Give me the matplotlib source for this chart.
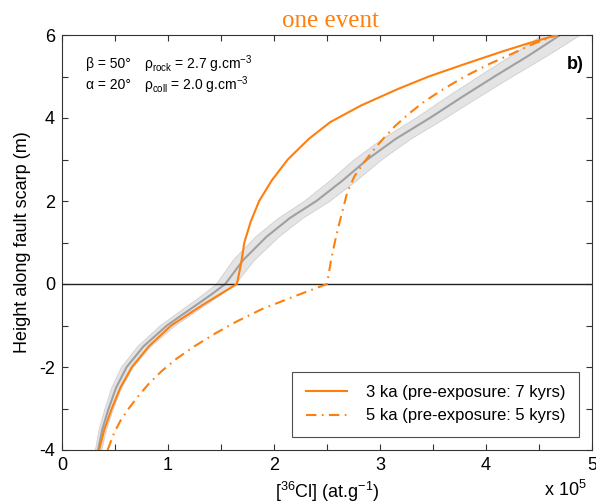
import numpy as np
import matplotlib
matplotlib.use("Agg")
import matplotlib.pyplot as plt
from matplotlib.ticker import MultipleLocator

plt.rcParams['font.family'] = ['Liberation Sans', 'DejaVu Sans']
plt.rcParams['mathtext.fontset'] = 'custom'
plt.rcParams['mathtext.rm'] = 'Liberation Sans'
plt.rcParams['mathtext.it'] = 'Liberation Sans:italic'
plt.rcParams['mathtext.bf'] = 'Liberation Sans:bold'
plt.rcParams['axes.unicode_minus'] = False

# data ([36Cl] in units of 1e5 at/g vs height in m)
gray_h = [-4, -3.5, -3, -2.5, -2, -1.5, -1, -0.5, -0.25, 0,
          0.58, 1.14, 1.59, 2.0, 2.5, 3.0, 3.5, 4.0,
          4.5, 5.0, 5.5, 6]
gray_x = [0.34, 0.38, 0.44, 0.51, 0.61, 0.77, 0.99, 1.27, 1.41, 1.54,
          1.71, 1.93, 2.15, 2.40, 2.65, 2.88, 3.15, 3.47,
          3.77, 4.08, 4.40, 4.70]
gray_err = [0.03, 0.035, 0.04, 0.047, 0.055, 0.062, 0.07, 0.08, 0.085, 0.09,
            0.10, 0.11, 0.115, 0.12, 0.125, 0.13, 0.135, 0.14,
            0.15, 0.16, 0.17, 0.18]

solid_h = [-4, -3.5, -3, -2.5, -2, -1.5, -1, -0.5, 0,
           0.5, 1.0, 1.5, 2.0, 2.5, 3.0, 3.5, 3.9, 4.3, 4.7, 5.0,
           5.3, 5.6, 5.8, 6]
solid_x = [0.35, 0.40, 0.47, 0.55, 0.66, 0.82, 1.03, 1.33, 1.65,
           1.69, 1.72, 1.78, 1.86, 1.98, 2.13, 2.33, 2.53, 2.82, 3.17, 3.46,
           3.80, 4.15, 4.40, 4.67]

dash_h = [-4, -3.6, -3.3, -3.0, -2.7, -2.4, -2.1, -1.8, -1.5, -1.2, -0.9, -0.6, -0.3, 0,
          0.6, 1.2, 1.7, 2.2, 2.6, 2.9, 3.2, 3.5, 3.8, 4.1, 4.4, 4.7,
          5.0, 5.3, 5.6, 5.8, 6]
dash_x = [0.43, 0.49, 0.55, 0.63, 0.72, 0.82, 0.94, 1.08, 1.25, 1.44, 1.65, 1.89, 2.19, 2.50,
          2.54, 2.59, 2.64, 2.69, 2.76, 2.84, 2.93, 3.03, 3.14, 3.27, 3.42, 3.60,
          3.80, 4.03, 4.29, 4.46, 4.67]

labels = ['3 ka (pre-exposure: 7 kyrs)', '5 ka (pre-exposure: 5 kyrs)']
orange = '#ff7f0e'

fig = plt.figure(figsize=(5.96, 5.03), dpi=100)
ax = fig.add_axes([62/596, 53/503, 530/596, 415/503])

gh = np.array(gray_h)
gx = np.array(gray_x)
ge = np.array(gray_err)
ax.fill_betweenx(gh, gx - ge, gx + ge, color='#e4e4e4', edgecolor='#cfcfcf', lw=0.6, zorder=1)
ax.plot(gx, gh, color='#a0a0a0', lw=1.5, zorder=2)

ax.axhline(0, color='#222222', lw=1, zorder=3)

ax.plot(solid_x, solid_h, color=orange, lw=1.5, label=labels[0], zorder=4)
ax.plot(dash_x, dash_h, color=orange, lw=1.5, dashes=(5, 2.6, 0.8, 2.6), label=labels[1], zorder=4)

ax.set_xlim(0, 5)
ax.set_ylim(-4, 6)
ax.xaxis.set_major_locator(MultipleLocator(1))
ax.xaxis.set_minor_locator(MultipleLocator(0.5))
ax.yaxis.set_major_locator(MultipleLocator(2))
ax.yaxis.set_minor_locator(MultipleLocator(1))
ax.tick_params(which='both', direction='in', top=True, right=True, length=4, width=0.8, color='#333333')
ax.tick_params(which='major', labelsize=13, pad=5)
for s in ax.spines.values():
    s.set_color('#333333')
    s.set_linewidth(0.8)

ax.set_ylabel('Height along fault scarp (m)', fontsize=13, labelpad=6)
ax.set_xlabel('[$^{36}$Cl] (at.g$^{-1}$)', fontsize=13, labelpad=4)
fig.text(565/596, 1 - 490/503, 'x 10$^5$', fontsize=13, ha='center', va='center')

fig.text(330/596, 1 - 21/503, 'one event', fontsize=18, color=orange,
         family='Liberation Serif', ha='center', va='center')

ax.text(0.045, 0.93, 'β = 50°', transform=ax.transAxes, fontsize=10, va='center')
ax.text(0.155, 0.93, 'ρ$_{\\mathrm{rock}}$ = 2.7 g.cm$^{-3}$', transform=ax.transAxes, fontsize=10, va='center')
ax.text(0.045, 0.88, 'α = 20°', transform=ax.transAxes, fontsize=10, va='center')
ax.text(0.155, 0.88, 'ρ$_{\\mathrm{coll}}$ = 2.0 g.cm$^{-3}$', transform=ax.transAxes, fontsize=10, va='center')
ax.text(0.968, 0.928, 'b)', transform=ax.transAxes, fontsize=13, fontweight='bold', ha='center', va='center')

leg = ax.legend(loc='lower right', fontsize=12, frameon=True, fancybox=False,
                edgecolor='#222222', borderpad=0.8, handlelength=2.5,
                handletextpad=1.1, borderaxespad=0.8, labelspacing=0.5)
leg.get_frame().set_linewidth(0.8)

fig.savefig('out.png', dpi=100)
